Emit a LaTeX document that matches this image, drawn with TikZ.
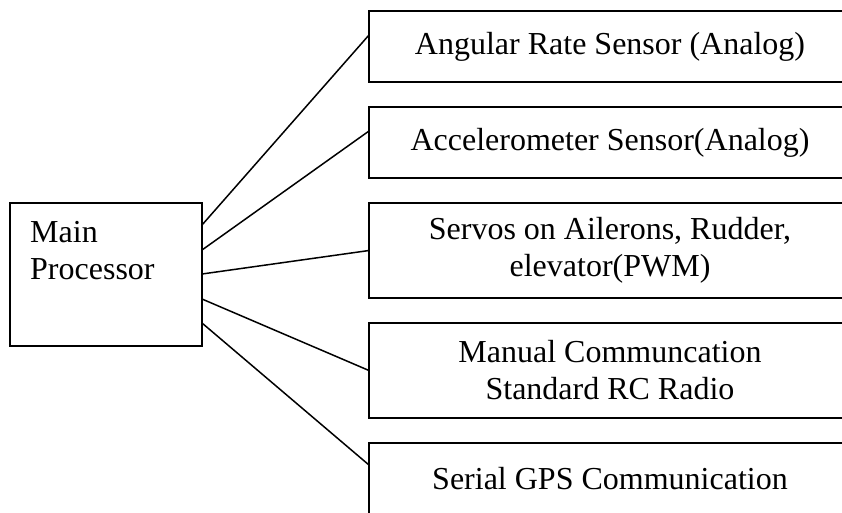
\documentclass[tikz,border=0pt]{standalone}
\usepackage{fontspec}
\setmainfont{Liberation Serif}
\usepackage{tikz}
\usetikzlibrary{positioning}
\tikzstyle{link} = [line width=1.5pt,-]
\tikzstyle{box} = [rectangle, draw, line width=1.5pt, outer sep=0pt, minimum width=482pt, align=center]

\begin{document}
\begin{tikzpicture}[x=1pt, y=1pt, font=\fontsize{32pt}{37pt}\selectfont]
\useasboundingbox (0,0) rectangle (842,-512);

\node [rectangle, draw, line width=1.5pt, outer sep=0pt, anchor=north west, minimum width=192pt, minimum height=143pt] (main) at (10,-203) {};
\node [anchor=north west, align=left, inner sep=0pt] (mainlabel) at ([shift={(20,-18)}]main.north west) {Main\\Processor};

\node [box, minimum height=71pt, anchor=north west] (s1) at (369,-11) {Angular Rate Sensor (Analog)};
\node [box, minimum height=71pt] (s2) [below=25pt of s1] {Accelerometer Sensor(Analog)};
\node [box, minimum height=95pt] (s3) [below=25pt of s2] {Servos on Ailerons, Rudder,\\elevator(PWM)};
\node [box, minimum height=95pt] (s4) [below=25pt of s3] {Manual Communcation\\Standard RC Radio};
\node [box, minimum height=71pt] (s5) [below=25pt of s4] {Serial GPS Communication};

\draw [link] ([yshift=-22pt]main.north east) to ([yshift=-24pt]s1.north west);
\draw [link] ([yshift=-47pt]main.north east) to ([yshift=-24pt]s2.north west);
\draw [link] ([yshift=-71pt]main.north east) to (s3.west);
\draw [link] ([yshift=-96pt]main.north east) to (s4.west);
\draw [link] ([yshift=-120pt]main.north east) to ([yshift=-22pt]s5.north west);
\end{tikzpicture}
\end{document}
